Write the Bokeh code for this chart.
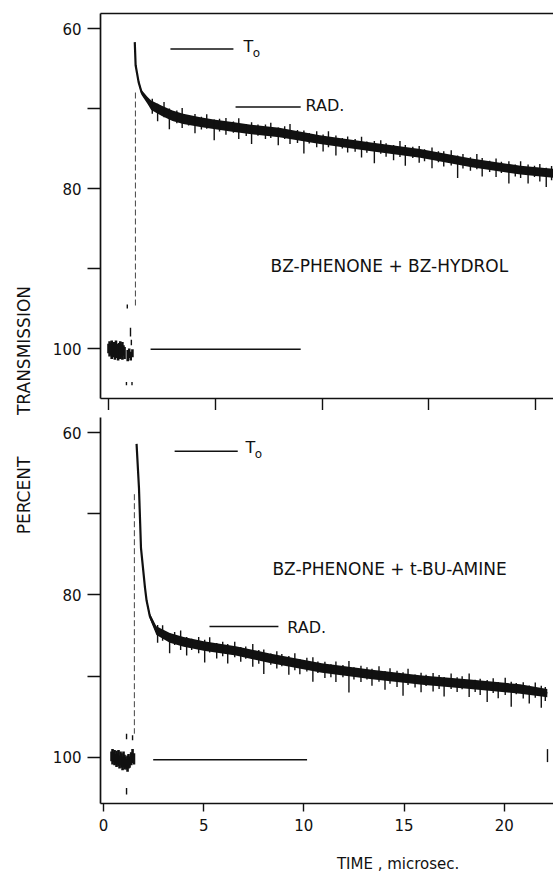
from math import pi
from bokeh.plotting import figure
from bokeh.models import Range1d, FixedTicker, Label, LinearAxis
from bokeh.layouts import row, column
from bokeh.embed import file_html
from bokeh.resources import INLINE

FONT = "DejaVu Sans"
INK = "#111111"

# ---------------- axis ticks ----------------
y_ticks = [60, 70, 80, 90, 100]
y_tick_labels = {60: "60", 70: "", 80: "80", 90: "", 100: "100"}
x_ticks = [0, 5, 10, 15, 20]

# ---------------- top panel: BZ-PHENONE + BZ-HYDROL ----------------
top_base_t = [0.00, 0.05, 0.10, 0.15, 0.20, 0.25, 0.30, 0.35, 0.40, 0.45, 0.50, 0.55, 0.60, 0.65, 0.70, 0.75,
              0.90, 0.97, 1.04, 1.12]
top_base_lo = [99.4, 99.1, 99.3, 99.0, 99.2, 99.5, 99.2, 99.0, 99.4, 99.6, 99.3, 99.1, 99.5, 99.2, 99.6, 99.8,
               100.2, 100.0, 100.4, 100.1]
top_base_hi = [100.6, 101.0, 100.8, 101.3, 100.9, 101.1, 101.4, 100.8, 101.2, 101.5, 101.0, 101.3, 101.1, 101.4,
               100.9, 101.3, 101.6, 101.2, 101.5, 101.1]
top_stray_t = [0.88, 1.03, 1.07, 0.84, 1.10]
top_stray_lo = [94.5, 97.4, 98.9, 104.2, 104.2]
top_stray_hi = [95.0, 98.5, 99.6, 104.6, 104.6]
top_flash_t = [1.26]
top_flash_y0 = [68.0]
top_flash_y1 = [95.0]

top_t = [1.23, 1.27, 1.41, 1.55, 1.83, 2.0, 2.5, 3.0, 3.5, 4.3, 5.0, 5.8, 6.6, 8.0, 9.9, 12.3, 14.6, 17.0, 19.3, 20.84]
top_y = [61.7, 64.6, 66.7, 68.0, 69.0, 69.6, 70.3, 70.9, 71.3, 71.7, 72.0, 72.3, 72.6, 73.0, 73.9, 74.8, 75.6, 76.8, 77.7, 78.1]
top_hw = [0.05, 0.1, 0.2, 0.3, 0.45, 0.6, 0.65, 0.65, 0.65, 0.6, 0.6, 0.6, 0.6, 0.58, 0.55, 0.55, 0.55, 0.55, 0.55, 0.55]

# noise hairs: time, local trace level, excursion above (toward 60) and below (toward 100)
top_nz_t = [2.05, 2.3, 2.6, 2.85, 3.2, 3.45, 3.75, 4.05, 4.35, 4.6, 4.95, 5.2, 5.5, 5.85, 6.1, 6.45, 6.7, 7.0,
            7.35, 7.6, 7.95, 8.25, 8.5, 8.85, 9.15, 9.4, 9.75, 10.05, 10.3, 10.65, 10.95, 11.2, 11.55, 11.85,
            12.1, 12.45, 12.75, 13.0, 13.35, 13.65, 13.9, 14.25, 14.55, 14.8, 15.15, 15.45, 15.7, 16.05, 16.35,
            16.6, 16.95, 17.25, 17.5, 17.85, 18.15, 18.4, 18.75, 19.05, 19.3, 19.65, 19.95, 20.2, 20.5, 20.75]
top_nz_mid = [69.67, 70.0, 70.4, 70.7, 71.05, 71.25, 71.43, 71.58, 71.72, 71.83, 71.98, 72.08, 72.19, 72.32,
              72.41, 72.54, 72.63, 72.71, 72.81, 72.89, 72.99, 73.12, 73.24, 73.4, 73.54, 73.66, 73.83, 73.96,
              74.05, 74.18, 74.29, 74.39, 74.52, 74.63, 74.73, 74.85, 74.96, 75.04, 75.17, 75.27, 75.36, 75.48,
              75.58, 75.7, 75.88, 76.03, 76.15, 76.33, 76.48, 76.6, 76.78, 76.9, 77.0, 77.13, 77.25, 77.35,
              77.49, 77.6, 77.7, 77.79, 77.87, 77.93, 78.01, 78.08]
top_nz_up = [0.9, 0.6, 1.2, 0.7, 0.8, 1.3, 0.6, 0.9, 0.7, 1.1, 0.6, 0.8, 1.0, 0.7, 1.2, 0.6, 0.9, 0.7, 0.8, 1.1,
             0.6, 0.9, 1.3, 0.7, 0.8, 0.6, 1.0, 0.7, 1.2, 0.8, 0.6, 0.9, 0.7, 1.1, 0.6, 0.8, 1.0, 0.7, 0.6, 1.2,
             0.8, 0.7, 0.9, 0.6, 1.0, 0.7, 0.8, 1.1, 0.6, 0.9, 0.7, 1.2, 0.8, 0.6, 1.0, 0.7, 0.9, 0.6, 1.1, 0.8,
             0.7, 1.0, 0.6, 0.9]
top_nz_dn = [1.0, 1.6, 0.7, 1.9, 0.8, 1.2, 0.7, 1.5, 0.9, 0.7, 2.0, 0.8, 1.1, 0.7, 1.4, 0.9, 1.8, 0.7, 1.0, 0.8,
             1.6, 0.7, 1.2, 0.9, 2.1, 0.7, 1.0, 1.4, 0.8, 1.7, 0.7, 1.1, 0.9, 1.5, 0.8, 2.0, 0.7, 1.0, 1.3, 0.8,
             1.8, 0.7, 1.2, 0.9, 1.6, 0.7, 1.1, 0.8, 2.2, 0.9, 1.0, 0.7, 1.5, 0.8, 1.3, 0.7, 1.9, 0.9, 1.0, 1.6,
             0.7, 1.2, 1.8, 0.9]

top_ref_x0 = [2.9, 5.95, 1.97]
top_ref_x1 = [5.85, 9.0, 9.0]
top_ref_y = [62.56, 69.8, 100.1]

# ---------------- bottom panel: BZ-PHENONE + t-BU-AMINE ----------------
bot_base_t = [0.40, 0.45, 0.50, 0.55, 0.60, 0.65, 0.70, 0.75, 0.80, 0.85, 0.90, 0.95, 1.00, 1.05, 1.10, 1.15,
              1.20, 1.25, 1.30, 1.38, 1.45, 1.52]
bot_base_lo = [99.3, 99.0, 99.4, 99.1, 99.6, 99.2, 99.5, 99.1, 99.8, 99.3, 99.5, 99.9, 99.3, 99.7, 99.9, 100.2,
               99.8, 99.6, 99.9, 99.4, 99.0, 99.5]
bot_base_hi = [100.5, 100.9, 100.6, 101.0, 100.8, 101.2, 100.9, 101.1, 101.4, 101.0, 101.3, 101.6, 101.2, 101.5,
               101.3, 101.5, 101.8, 101.4, 101.3, 101.0, 100.7, 100.9]
bot_stray_t = [1.15, 1.45, 1.15, 22.16]
bot_stray_lo = [97.1, 97.3, 103.8, 99.0]
bot_stray_hi = [97.8, 97.9, 104.6, 100.6]
bot_flash_t = [1.54]
bot_flash_y0 = [67.6]
bot_flash_y1 = [97.1]

bot_t = [1.65, 1.77, 1.87, 2.07, 2.15, 2.31, 2.64, 3.31, 4.0, 5.0, 6.6, 8.3, 10.9, 13.4, 15.9, 18.3, 20.8, 22.15]
bot_y = [61.4, 66.8, 74.2, 79.1, 80.7, 82.6, 84.4, 85.3, 85.8, 86.3, 86.9, 87.8, 89.0, 89.8, 90.5, 91.0, 91.6, 92.1]
bot_hw = [0.05, 0.08, 0.1, 0.12, 0.2, 0.35, 0.55, 0.6, 0.6, 0.58, 0.58, 0.58, 0.58, 0.58, 0.58, 0.58, 0.58, 0.5]

bot_nz_t = [2.7, 2.95, 3.3, 3.55, 3.85, 4.15, 4.4, 4.75, 5.05, 5.3, 5.65, 5.95, 6.2, 6.55, 6.85, 7.1, 7.45,
            7.75, 8.0, 8.35, 8.65, 8.9, 9.25, 9.55, 9.8, 10.15, 10.45, 10.7, 11.05, 11.35, 11.6, 11.95, 12.25,
            12.5, 12.85, 13.15, 13.4, 13.75, 14.05, 14.3, 14.65, 14.95, 15.2, 15.55, 15.85, 16.1, 16.45, 16.75,
            17.0, 17.35, 17.65, 17.9, 18.25, 18.55, 18.8, 19.15, 19.45, 19.7, 20.05, 20.35, 20.6, 20.95, 21.25,
            21.55, 21.85, 22.05]
bot_nz_mid = [84.5, 84.85, 85.29, 85.47, 85.69, 85.88, 86.0, 86.18, 86.32, 86.41, 86.54, 86.66, 86.75, 86.88,
              87.03, 87.16, 87.35, 87.5, 87.64, 87.82, 87.96, 88.08, 88.24, 88.38, 88.49, 88.65, 88.79, 88.91,
              89.05, 89.14, 89.22, 89.34, 89.44, 89.52, 89.62, 89.72, 89.8, 89.9, 89.98, 90.05, 90.15, 90.23,
              90.3, 90.4, 90.49, 90.54, 90.61, 90.68, 90.73, 90.8, 90.86, 90.92, 90.99, 91.06, 91.12, 91.2,
              91.28, 91.34, 91.42, 91.49, 91.55, 91.66, 91.77, 91.88, 91.99, 92.06]
bot_nz_up = [0.8, 1.1, 0.6, 0.9, 1.3, 0.7, 0.6, 1.0, 0.8, 1.2, 0.6, 0.9, 0.7, 1.1, 0.6, 0.8, 1.3, 0.7, 0.9, 0.6,
             1.0, 0.8, 0.7, 1.2, 0.6, 0.9, 1.1, 0.7, 0.8, 0.6, 1.0, 0.7, 1.3, 0.6, 0.9, 0.8, 0.7, 1.1, 0.6, 1.0,
             0.8, 0.7, 1.2, 0.6, 0.9, 0.7, 1.0, 0.8, 0.6, 1.1, 0.7, 0.9, 1.3, 0.6, 0.8, 0.7, 1.0, 0.6, 1.2, 0.8,
             0.7, 0.9, 0.6, 1.1, 0.8, 0.7]
bot_nz_dn = [1.4, 0.8, 1.9, 0.7, 1.1, 1.6, 0.8, 1.0, 2.0, 0.7, 1.3, 0.9, 1.7, 0.8, 1.2, 0.7, 1.5, 1.0, 2.1, 0.8,
             1.1, 0.7, 1.6, 0.9, 1.3, 0.8, 1.9, 0.7, 1.2, 1.0, 1.5, 0.8, 2.6, 0.9, 1.1, 0.7, 1.4, 0.8, 1.7, 0.9,
             1.2, 2.2, 0.8, 1.0, 1.5, 0.7, 1.3, 0.9, 1.8, 0.8, 1.1, 0.7, 1.6, 0.9, 1.2, 2.0, 0.8, 1.4, 0.9, 2.3,
             0.7, 1.1, 1.6, 0.8, 1.9, 1.0]

bot_ref_x0 = [3.55, 5.29, 2.48]
bot_ref_x1 = [6.7, 8.73, 10.16]
bot_ref_y = [62.3, 83.9, 100.3]


def style_left_axis(ax):
    ax.ticker = FixedTicker(ticks=y_ticks, minor_ticks=[])
    ax.major_label_overrides = y_tick_labels
    ax.major_tick_out = 13
    ax.major_tick_in = 0
    ax.minor_tick_out = 0
    ax.minor_tick_in = 0
    ax.axis_line_width = 1.7
    ax.axis_line_color = INK
    ax.major_tick_line_width = 1.4
    ax.major_tick_line_color = INK
    ax.major_label_text_font = FONT
    ax.major_label_text_font_size = "15px"
    ax.major_label_text_color = INK
    ax.major_label_standoff = 6


def make_panel(height, xr, yr, b_top, b_bottom, b_left):
    p = figure(width=513, height=height, x_range=xr, y_range=yr,
               output_backend="svg", toolbar_location=None,
               x_axis_location=None, y_axis_location=None,
               min_border_left=b_left, min_border_right=0,
               min_border_top=b_top, min_border_bottom=b_bottom)
    p.outline_line_color = None
    p.grid.visible = False
    left = LinearAxis()
    style_left_axis(left)
    p.add_layout(left, "left")
    return p


def draw_trace(p, base_t, base_lo, base_hi, stray_t, stray_lo, stray_hi,
               fl_t, fl_y0, fl_y1, tt, yy, hw, nz_t, nz_mid, nz_up, nz_dn,
               rx0, rx1, ry):
    p.segment(x0=base_t, y0=base_lo, x1=base_t, y1=base_hi, line_width=2.6, line_color=INK)
    p.segment(x0=stray_t, y0=stray_lo, x1=stray_t, y1=stray_hi, line_width=1.4, line_color=INK)
    p.segment(x0=fl_t, y0=fl_y0, x1=fl_t, y1=fl_y1, line_width=1, line_color="#444444",
              line_dash="6 3")
    p.line(tt, yy, line_width=2.2, line_color=INK)
    lo = [y - w for y, w in zip(yy, hw)]
    hi = [y + w for y, w in zip(yy, hw)]
    p.varea(x=tt, y1=lo, y2=hi, fill_color=INK)
    n_lo = [m - u for m, u in zip(nz_mid, nz_up)]
    n_hi = [m + d for m, d in zip(nz_mid, nz_dn)]
    p.segment(x0=nz_t, y0=n_lo, x1=nz_t, y1=n_hi, line_width=1.4, line_color=INK)
    p.segment(x0=rx0, y0=ry, x1=rx1, y1=ry, line_width=1.5, line_color=INK)


def add_text(p, x, y, text, size, align="left"):
    p.add_layout(Label(x=x, y=y, text=text, text_font=FONT, text_font_size=size,
                       text_color=INK, text_align=align, text_baseline="middle"))


# ---------------- top figure ----------------
top = make_panel(410, Range1d(-0.375, 20.84), Range1d(106.25, 58.125), 13, 12, 60)
tb = LinearAxis(ticker=FixedTicker(ticks=x_ticks, minor_ticks=[]),
                major_label_overrides={0: "", 5: "", 10: "", 15: "", 20: ""},
                major_label_text_font_size="0px", major_label_standoff=0,
                major_tick_out=12, major_tick_in=0, minor_tick_out=0, minor_tick_in=0,
                axis_line_width=1.7, axis_line_color=INK,
                major_tick_line_width=1.4, major_tick_line_color=INK)
top.add_layout(tb, "below")
ta = LinearAxis(ticker=FixedTicker(ticks=[], minor_ticks=[]),
                major_label_text_font_size="0px", major_label_standoff=0,
                major_tick_out=0, major_tick_in=0, minor_tick_out=0, minor_tick_in=0,
                axis_line_width=1.7, axis_line_color=INK)
top.add_layout(ta, "above")

draw_trace(top, top_base_t, top_base_lo, top_base_hi, top_stray_t, top_stray_lo, top_stray_hi,
           top_flash_t, top_flash_y0, top_flash_y1, top_t, top_y, top_hw,
           top_nz_t, top_nz_mid, top_nz_up, top_nz_dn, top_ref_x0, top_ref_x1, top_ref_y)
add_text(top, 6.32, 62.3, "T", "16px")
add_text(top, 6.76, 63.0, "o", "12px")
add_text(top, 9.23, 69.6, "RAD.", "16px")
add_text(top, 7.59, 89.7, "BZ-PHENONE + BZ-HYDROL", "17px")

# ---------------- bottom figure ----------------
bot = make_panel(431, Range1d(-0.15, 22.46), Range1d(105.7, 58.15), 7, 38, 57)
bb = LinearAxis(ticker=FixedTicker(ticks=x_ticks, minor_ticks=[]),
                major_tick_out=8, major_tick_in=0, minor_tick_out=0, minor_tick_in=0,
                axis_line_width=1.7, axis_line_color=INK,
                major_tick_line_width=1.4, major_tick_line_color=INK,
                major_label_text_font=FONT, major_label_text_font_size="15px",
                major_label_text_color=INK, major_label_standoff=7)
bot.add_layout(bb, "below")

draw_trace(bot, bot_base_t, bot_base_lo, bot_base_hi, bot_stray_t, bot_stray_lo, bot_stray_hi,
           bot_flash_t, bot_flash_y0, bot_flash_y1, bot_t, bot_y, bot_hw,
           bot_nz_t, bot_nz_mid, bot_nz_up, bot_nz_dn, bot_ref_x0, bot_ref_x1, bot_ref_y)
add_text(bot, 7.09, 61.85, "T", "16px")
add_text(bot, 7.55, 62.6, "o", "12px")
add_text(bot, 9.17, 84.0, "RAD.", "16px")
add_text(bot, 8.43, 76.8, "BZ-PHENONE + t-BU-AMINE", "17px")

# ---------------- x-axis title strip ----------------
xlab = figure(width=513, height=35, x_range=Range1d(0, 513), y_range=Range1d(35, 0),
              output_backend="svg", toolbar_location=None,
              x_axis_location=None, y_axis_location=None, min_border=0)
xlab.outline_line_color = None
xlab.grid.visible = False
xlab.add_layout(Label(x=337, y=22, text="TIME , microsec.", text_font=FONT, text_font_size="15px",
                      text_color=INK, text_align="center", text_baseline="middle"))

# ---------------- y label strip ----------------
lab = figure(width=40, height=876, x_range=Range1d(0, 40), y_range=Range1d(876, 0),
             output_backend="svg", toolbar_location=None,
             x_axis_location=None, y_axis_location=None, min_border=0)
lab.outline_line_color = None
lab.grid.visible = False
for txt, yc in (("TRANSMISSION", 350), ("PERCENT", 495)):
    lab.add_layout(Label(x=23.5, y=yc, text=txt, angle=pi / 2, text_font=FONT,
                         text_font_size="17px", text_color=INK,
                         text_align="center", text_baseline="middle"))

layout = row(lab, column(top, bot, xlab))
open("out.html", "w").write(file_html(layout, INLINE))
